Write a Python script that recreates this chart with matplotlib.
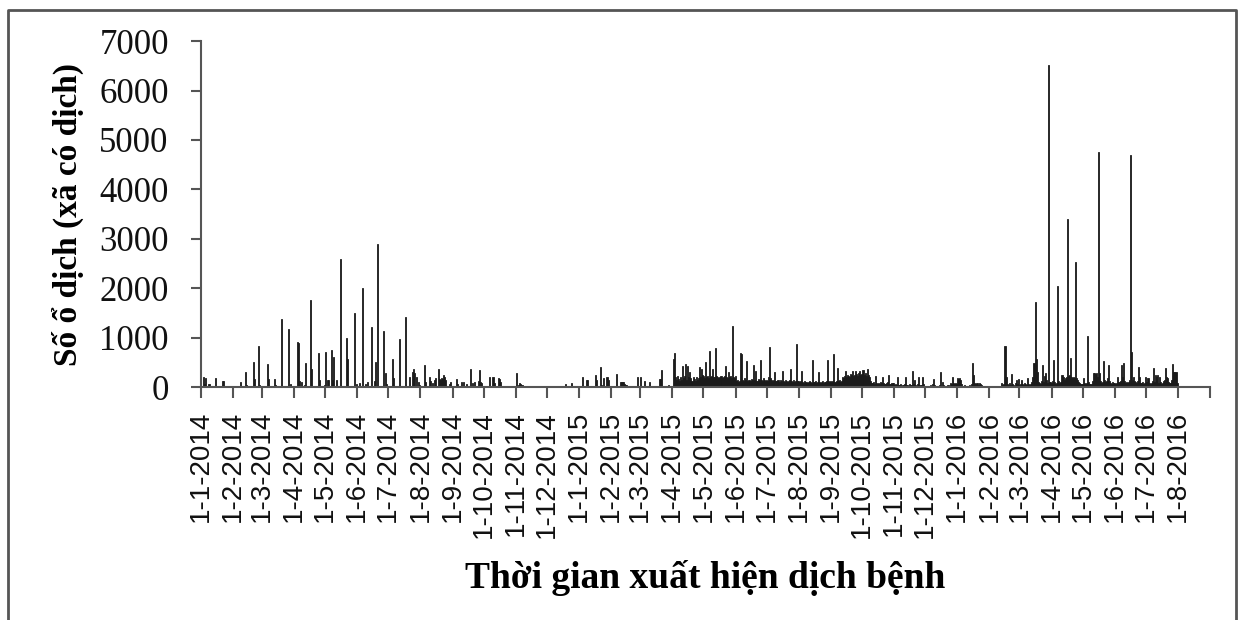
import matplotlib
matplotlib.use("Agg")
import matplotlib.pyplot as plt
from matplotlib.lines import Line2D
import pandas as pd

# so o dich theo ngay, moi danh sach la mot thang (bat dau tu ngay 1)
t01_2014 = [0,0,0,210,60,180,0,0,60,0,0,0,0,0,180,0,0,0,0,0,0,130,130,0,0,0,0,0,0,0,0]
t02_2014 = [0,0,0,0,0,0,0,100,0,0,0,0,315,50,0,0,0,0,0,0,520,170,0,0,0,835,40,0]
t03_2014 = [0,0,0,0,0,470,170,0,0,0,0,0,160,50,0,0,0,0,0,1380,0,0,0,0,0,0,1170,0,60,0,0]
t04_2014 = [0,0,0,910,900,135,0,100,0,0,50,500,0,0,0,0,1760,365,0,0,0,0,0,0,690,140,0,0,0,50]
t05_2014 = [710,0,150,145,0,0,755,150,606,0,0,150,0,0,0,2590,0,0,0,0,0,990,565,0,0,0,0,0,1500,0,60]
t06_2014 = [0,0,95,0,0,2000,0,0,70,0,100,0,0,0,1218,0,0,130,520,0,2900,0,0,0,0,1143,0,295,70,0]
t07_2014 = [0,0,0,0,570,180,0,0,0,0,0,970,0,0,0,0,0,1425,0,0,215,0,0,315,370,290,0,200,0,115,40]
t08_2014 = [0,0,0,0,450,100,0,0,0,200,120,0,80,0,150,180,0,380,170,150,180,160,250,200,150,0,0,0,60,110,0]
t09_2014 = [0,0,0,0,160,60,0,0,0,110,0,100,0,70,0,0,0,380,0,80,0,100,0,0,0,120,340,100,80,0]
t10_2014 = [0,0,0,0,30,0,200,0,0,215,80,0,0,0,180,170,100,0,0,15,20,0,15,0,0,0,0,0,0,0,0]
t11_2014 = [0,296,0,40,80,60,40,20,0,0,0,0,0,0,0,10,0,0,0,0,0,0,0,0,20,0,0,0,0,0]
t12_2014 = [0,0,0,0,0,0,15,0,0,0,15,0,0,15,0,0,0,0,67,0,0,0,0,0,95,30,0,0,0,0,0]
t01_2015 = [0,0,0,215,0,0,0,150,150,0,0,0,0,0,0,0,240,150,0,0,0,420,50,0,180,0,0,215,150,0,0]
t02_2015 = [0,0,0,0,0,270,0,0,0,110,100,110,100,60,40,50,30,20,0,0,0,0,0,0,0,215,0,0]
t03_2015 = [215,0,0,0,135,0,0,0,0,100,0,0,0,0,0,0,0,0,0,160,160,360,0,0,0,30,0,40,0,0,0]
t04_2015 = [30,580,700,200,140,220,160,120,200,150,440,180,220,470,150,440,200,300,180,130,200,160,120,200,150,180,410,200,380,250]
t05_2015 = [220,180,510,200,220,180,740,200,230,380,200,210,800,230,200,180,210,220,190,200,230,440,200,180,300,200,220,190,1245,200,190]
t06_2015 = [220,120,150,100,130,700,680,150,120,180,140,540,130,150,120,160,140,460,150,330,130,120,160,140,560,150,130,180,140,120]
t07_2015 = [150,130,200,820,180,150,120,140,300,130,120,150,110,140,130,330,120,100,140,120,110,130,150,380,120,110,140,100,130,880,120]
t08_2015 = [120,100,130,330,110,90,120,100,80,110,130,100,90,560,110,100,120,90,100,310,110,80,100,120,90,110,100,130,560,120,100]
t09_2015 = [130,100,120,670,110,130,400,120,150,100,130,200,180,220,320,200,250,230,210,260,240,330,220,250,320,260,230,280,320,240]
t10_2015 = [260,350,240,280,220,370,250,200,120,80,90,100,70,230,80,60,90,70,100,80,200,90,70,60,80,100,250,70,60,80,90]
t11_2015 = [40,60,50,200,50,40,60,30,50,40,60,210,50,40,30,60,50,40,320,60,150,50,30,60,200,40,50,200,60,30]
t12_2015 = [0,20,30,20,0,40,30,60,170,40,20,30,0,20,40,315,30,100,40,20,30,20,40,0,80,60,215,80,70,80,60]
t01_2016 = [180,170,180,150,60,30,20,40,30,20,0,30,40,20,60,500,250,80,60,90,50,80,70,40,30,20,30,20,0,0,0]
t02_2016 = [0,0,0,0,10,0,0,0,0,0,0,20,80,40,60,835,215,60,40,80,50,270,60,40,30,80,150,60,160]
t03_2016 = [40,60,150,60,40,80,60,50,180,60,40,70,100,200,485,1716,565,300,100,80,60,120,450,100,220,280,150,90,6522,100,110]
t04_2016 = [80,120,550,100,60,90,2045,120,80,100,250,215,150,180,200,3412,220,250,600,215,180,200,180,2537,190,150,100,80,60,70]
t05_2016 = [60,180,80,60,90,1036,100,70,60,120,280,280,270,280,200,4758,280,120,90,100,530,150,110,120,180,450,120,90,70,100,80]
t06_2016 = [80,60,90,215,100,120,450,200,500,130,90,110,80,100,150,4690,720,150,215,120,100,90,130,415,215,90,80,100,70,90]
t07_2016 = [215,100,180,80,60,90,120,385,100,250,200,250,80,215,100,60,90,120,150,385,200,180,100,80,90,150,465,315,300,315,80]
t08_2016 = [30,20,25,20,15,10,20,15,10]

cac_thang = [t01_2014, t02_2014, t03_2014, t04_2014, t05_2014, t06_2014,
             t07_2014, t08_2014, t09_2014, t10_2014, t11_2014, t12_2014,
             t01_2015, t02_2015, t03_2015, t04_2015, t05_2015, t06_2015,
             t07_2015, t08_2015, t09_2015, t10_2015, t11_2015, t12_2015,
             t01_2016, t02_2016, t03_2016, t04_2016, t05_2016, t06_2016,
             t07_2016, t08_2016]

moc_thang = pd.date_range("2014-01-01", "2016-09-01", freq="MS")
nhan_x = [f"{d.day}-{d.month}-{d.year}" for d in moc_thang[:-1]] + [""]

ngay = []
so_o = []
for bat_dau, ds in zip(moc_thang, cac_thang):
    for i, v in enumerate(ds):
        ngay.append(bat_dau + pd.Timedelta(days=i))
        so_o.append(v)

serif = ["Liberation Serif", "DejaVu Serif"]
sans = ["Liberation Sans", "DejaVu Sans"]
plt.rcParams["font.family"] = serif
xam = "#555555"
den = "#1a1a1a"

fig = plt.figure(figsize=(12.42, 6.2), dpi=100)
ax = fig.add_axes([0.1616, 0.3753, 0.8128, 0.5585])

ax.bar(ngay, so_o, width=1.0, color=den, edgecolor=den, linewidth=0.6)

ax.set_ylim(0, 7000)
ax.set_yticks(range(0, 7001, 1000))
ax.set_xlim(moc_thang[0], moc_thang[-1])
ax.set_xticks(moc_thang)
ax.set_xticklabels(nhan_x, rotation=90, fontfamily=sans, fontsize=20, color="#111111")

for s in ["top", "right"]:
    ax.spines[s].set_visible(False)
for s in ["left", "bottom"]:
    ax.spines[s].set_color(xam)
    ax.spines[s].set_linewidth(1.5)

ax.tick_params(axis="y", direction="out", length=7, width=1.5, color=xam,
               pad=16, labelsize=25, labelcolor="#111111")
ax.tick_params(axis="x", direction="out", length=8, width=1.5, color=xam, pad=9)

ax.set_ylabel("Số ổ dịch (xã có dịch)", fontsize=24, fontweight="bold", va="center")
ax.yaxis.set_label_coords(-0.1315, 0.5)
ax.set_xlabel("Thời gian xuất hiện dịch bệnh", fontsize=27, fontweight="bold", va="baseline")
ax.xaxis.set_label_coords(0.5, -0.5796)

# khung ngoai
x0, x1, y1 = 8 / 1242, 1236 / 1242, 1 - 10 / 620
fig.add_artist(Line2D([x0, x0, x1, x1], [0, y1, y1, 0], transform=fig.transFigure,
                      color=xam, linewidth=2))

fig.savefig("out.png", dpi=100)
